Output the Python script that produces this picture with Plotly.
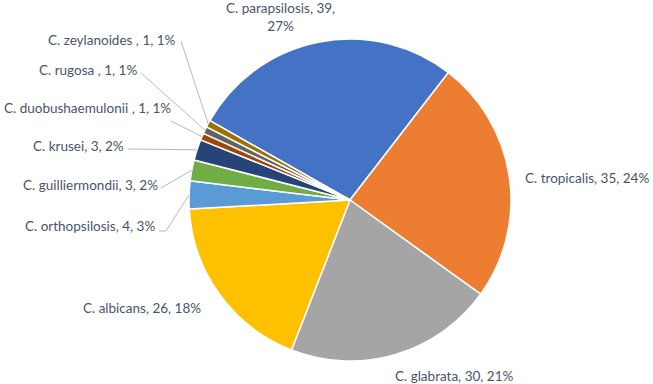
import math
import plotly.graph_objects as go

species = ["C. parapsilosis", "C. tropicalis", "C. glabrata", "C. albicans",
           "C. orthopsilosis", "C. guilliermondii", "C. krusei",
           "C. duobushaemulonii ", "C. rugosa ", "C. zeylanoides "]
counts = [39, 35, 30, 26, 4, 3, 3, 1, 1, 1]
colors = ["#4472C4", "#ED7D31", "#A5A5A5", "#FFC000", "#5B9BD5",
          "#70AD47", "#264478", "#9E480E", "#636363", "#997300"]

W, H = 653, 384
CX, CY, R = 350, 200, 161
ROT = -60.5
TXT = "#475569"
FONT = "Lato"
FS = 13.5

fig = go.Figure(go.Pie(
    labels=species, values=counts, sort=False, direction="clockwise",
    rotation=ROT, textinfo="none", hoverinfo="label+value+percent",
    marker=dict(colors=colors, line=dict(color="white", width=1.5)),
    domain=dict(x=[(CX - R) / W, (CX + R) / W],
                y=[(H - CY - R) / H, (H - CY + R) / H]),
    showlegend=False,
))

total = sum(counts)
mid = []
acc = ROT
for c in counts:
    span = c / total * 360
    mid.append(acc + span / 2)
    acc += span

def edge(i, rr=R):
    a = math.radians(mid[i])
    return CX + rr * math.sin(a), CY - rr * math.cos(a)

def px(x, y):
    return x / W, 1 - y / H

# label text placement: (x, y, xanchor)
place = [
    (280, 17, "center"),
    (523, 178, "left"),
    (393, 376, "left"),
    (203, 308, "right"),
    (157, 226, "right"),
    (160, 185, "right"),
    (126, 146, "right"),
    (173, 108, "right"),
    (139, 70, "right"),
    (178, 40, "right"),
]
pcts = [round(c / total * 100) for c in counts]
annotations = []
for i, (name, c, p) in enumerate(zip(species, counts, pcts)):
    x, y, xa = place[i]
    txt = f"{name}, {c}, {p}%"
    if i == 0:
        txt = f"{name}, {c},<br>{p}%"
    fx, fy = px(x, y)
    annotations.append(dict(x=fx, y=fy, xref="paper", yref="paper", text=txt,
                            showarrow=False, xanchor=xa, yanchor="middle",
                            align="center",
                            font=dict(family=FONT, size=FS, color=TXT)))

# leader line tails (pixel positions) for the small slices
tails = {
    4: [(159, 231), (166, 231)],
    5: [(161, 188)],
    6: [(128, 149)],
    7: [(171, 121)],
    8: [(141, 73)],
    9: [(181, 41)],
}
shapes = []
for i, pts in tails.items():
    hx, hy = edge(i)
    allp = pts + [(hx, hy)]
    path = ""
    for k, (x, y) in enumerate(allp):
        fx, fy = px(x, y)
        path += ("M" if k == 0 else " L") + f"{fx:.5f},{fy:.5f}"
    shapes.append(dict(type="path", path=path, xref="paper", yref="paper",
                       line=dict(color="#A6A6A6", width=0.8)))

fig.update_layout(
    width=W, height=H, margin=dict(l=0, r=0, t=0, b=0),
    paper_bgcolor="white", plot_bgcolor="white",
    annotations=annotations, shapes=shapes,
)
fig.write_html("out.html")
